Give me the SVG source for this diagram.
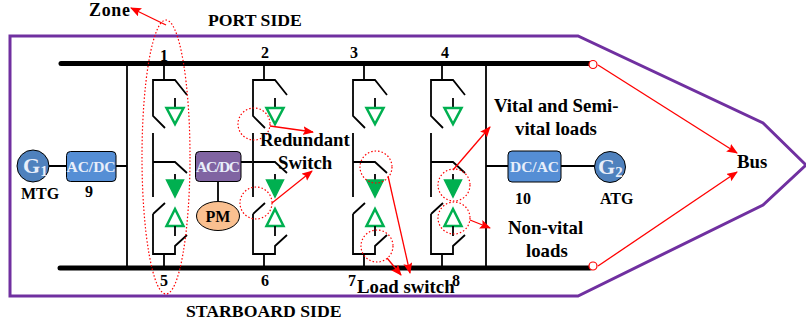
<svg xmlns="http://www.w3.org/2000/svg" width="806" height="328" viewBox="0 0 806 328">
<style>
text{font-family:"Liberation Serif","Times New Roman",serif;font-weight:bold;fill:#000}
.l{font-size:18.800px}.h{font-size:17.700px}.n{font-size:16px}
.z{font-size:17.900px}
.w{fill:#e8eefa;font-size:15.500px;text-anchor:middle}
.k{fill:none;stroke:#000;stroke-width:1.800}
.s{fill:none;stroke:#000;stroke-width:1.800}
.t{fill:none;stroke:#00b050;stroke-width:2.500}
.f{fill:#00b050;stroke:#00b050;stroke-width:1.500}
.r{stroke:#f00;stroke-width:1.300;fill:none;marker-end:url(#a)}
.d{fill:none;stroke:#f00;stroke-width:1.200;stroke-dasharray:1.500 2}
.b{stroke:#000;stroke-width:5;stroke-linecap:round;fill:none}
.g{fill:#e8eefa;font-size:22px}
</style>
<defs>
<marker id="a" markerUnits="userSpaceOnUse" markerWidth="12" markerHeight="10" refX="10" refY="4.500" orient="auto"><path d="M0 0L11 4.500L0 9L2 4.500Z" fill="#f00"/></marker>
<g id="sw">
<path class="s" d="M0 -17V0H-11V36L1 48M0 0H11L23 15"/>
<path class="s" d="M11 18V27"/>
<path class="t" d="M2.500 28H19.500L11 44Z"/>
<path class="s" d="M-11 53V117M-11 82H11L23 93"/>
<path class="s" d="M11 94V100"/>
<path class="f" d="M2.500 100H19.500L11 117Z"/>
<path class="s" d="M-11 134L1 123M-11 134V174H11V166L23 155M0 174V188"/>
<path class="t" d="M2.500 146H19.500L11 129Z"/>
<path class="s" d="M11 146V156"/>
</g>
</defs>
<path id="hull" d="M10 36H578L763 123L806 165L763 205L578 296H10Z" fill="none" stroke="#7030a0" stroke-width="3"/>
<g id="connectors">
<path class="b" d="M61 63.500H590"/>
<path class="b" d="M60 268H590"/>
<path class="k" d="M127 63V268M486 63V268M49 166H66M116 166H127M218 182V201M241 162H252M486 166H508M561 166H595"/>
<g id="switches">
<use href="#sw" x="164" y="80"/>
<use href="#sw" x="264" y="80"/>
<use href="#sw" x="364" y="80"/>
<use href="#sw" x="442" y="80"/>
</g>
<path class="r" d="M166 25L131 8"/>
<path class="r" d="M270 126L313 132"/>
<path class="r" d="M272 203L312 171"/>
<path class="r" d="M388 176L410 273"/>
<path class="r" d="M387 258L401 275"/>
<path class="r" d="M453 170L490 127"/>
<path class="r" d="M470 220L490 228"/>
<path class="r" d="M598 65L737 153"/>
<path class="r" d="M598 266L737 172"/>
<ellipse class="d" cx="166" cy="157" rx="24" ry="137"/>
<circle class="d" cx="254" cy="124" r="16"/>
<circle class="d" cx="256" cy="203" r="16"/>
<circle class="d" cx="376" cy="167" r="16"/>
<circle class="d" cx="377" cy="246" r="16"/>
<circle class="d" cx="454" cy="185" r="16"/>
<circle class="d" cx="454" cy="218" r="16"/>
<circle cx="593" cy="64.500" r="4" fill="#fff" stroke="#f00" stroke-width="1.200"/>
<circle cx="593" cy="266" r="4" fill="#fff" stroke="#f00" stroke-width="1.200"/>
</g>
<g id="G1"><circle cx="33" cy="166" r="16" fill="#4f81bd" stroke="#000" stroke-width="1"/><text x="23" y="173" class="g">G<tspan font-size="15" dy="3">1</tspan></text></g>
<g id="ACDC1"><rect x="66.500" y="151.500" width="49.500" height="30" rx="4" fill="#558ed5" stroke="#000" stroke-width="1"/><text class="w" x="91" y="172">AC/DC</text></g>
<g id="ACDC2"><rect x="195.500" y="151.500" width="45.500" height="30" rx="4" fill="#8064a2" stroke="#000" stroke-width="1"/><text class="w" x="218" y="172" textLength="44">AC/DC</text></g>
<g id="PM"><ellipse cx="218" cy="216" rx="21.500" ry="14.500" fill="#fac090" stroke="#000" stroke-width="1"/><text x="218" y="222" class="n" text-anchor="middle">PM</text></g>
<g id="DCAC"><rect x="508" y="151" width="53" height="31" rx="4" fill="#558ed5" stroke="#000" stroke-width="1"/><text class="w" x="534.500" y="172">DC/AC</text></g>
<g id="G2"><circle cx="610" cy="167" r="15.500" fill="#4f81bd" stroke="#000" stroke-width="1"/><text x="598" y="174" class="g">G<tspan font-size="15" dy="3">2</tspan></text></g>
<g id="labels">
<text x="89" y="16.200" class="z" textLength="41">Zone</text>
<text x="208" y="26" class="h">PORT SIDE</text>
<text x="186" y="317" class="h">STARBOARD SIDE</text>
<text x="260" y="146" class="l">Redundant</text>
<text x="278" y="169" class="l">Switch</text>
<text x="357" y="293" class="l">Load switch</text>
<text x="494" y="112" class="l">Vital and Semi-</text>
<text x="515" y="135" class="l">vital loads</text>
<text x="508" y="234" class="l">Non-vital</text>
<text x="526" y="257" class="l">loads</text>
<text x="737" y="168" class="l">Bus</text>
<text x="21" y="199" class="n">MTG</text>
<text x="600" y="204" class="n">ATG</text>
<text x="85" y="197" class="n">9</text>
<text x="515" y="204" class="n">10</text>
<text x="160" y="61" class="n">1</text>
<text x="261" y="58" class="n">2</text>
<text x="350" y="58" class="n">3</text>
<text x="441" y="58" class="n">4</text>
<text x="160" y="286" class="n">5</text>
<text x="261" y="286" class="n">6</text>
<text x="348" y="286" class="n">7</text>
<text x="452" y="286" class="n">8</text>
</g>
</svg>
